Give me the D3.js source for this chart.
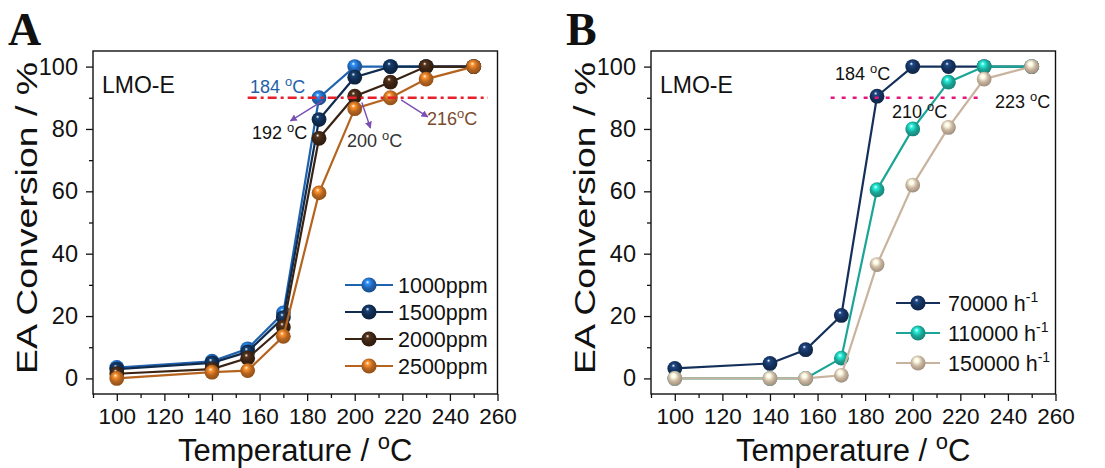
<!DOCTYPE html>
<html>
<head>
<meta charset="utf-8">
<script src="https://cdn.jsdelivr.net/npm/d3@7"></script>
<style>
  html, body { margin: 0; padding: 0; background: #fff; }
  svg { display: block; }
  text { fill: #111; }
</style>
</head>
<body>
<svg id="chart" width="1105" height="468" font-family="'Liberation Sans', Arial, sans-serif"></svg>
<script>
// Temperatures (°C) shared by both panels
const temps = [100, 140, 155, 170, 185, 200, 215, 230, 250];

// Panel A: EA conversion (%) at different EA concentrations
const conc1000 = [3.5, 5.5, 9.5, 21, 90, 100, 100, 100, 100];
const conc1500 = [3, 5, 8.5, 19.5, 83, 96.6, 100, 100, 100];
const conc2000 = [1.5, 3, 6.5, 16.5, 77, 90.5, 95, 100, 100];
const conc2500 = [0, 2, 2.5, 13.5, 59.5, 86.5, 90, 96, 100];
const concLabels = ["1000ppm", "1500ppm", "2000ppm", "2500ppm"];

// Panel B: EA conversion (%) at different space velocities
const ghsv70000 = [3.2, 4.8, 9.2, 20.2, 90.5, 100, 100, 100, 100];
const ghsv110000 = [0, 0, 0, 6.5, 60.5, 80, 95, 100, 100];
const ghsv150000 = [0, 0, 0, 1, 36.5, 62, 80.5, 96, 100];
const ghsvLabels = ["70000", "110000", "150000"];

// Axis ticks
const xTicks = [100, 120, 140, 160, 180, 200, 220, 240, 260];
const xMinor = [90, 110, 130, 150, 170, 190, 210, 230, 250];
const yTicks = [0, 20, 40, 60, 80, 100];
const yMinor = [10, 30, 50, 70, 90];

// T90 threshold and annotations
const t90 = 90;
const annotA = [
  { t: 184, text: "184", color: "#1e5fa8" },
  { t: 192, text: "192", color: "#111" },
  { t: 200, text: "200", color: "#333" },
  { t: 216, text: "216", color: "#7a4a2c" }
];
const annotB = [
  { t: 184, text: "184" },
  { t: 210, text: "210" },
  { t: 223, text: "223" }
];

const SANS = "'Liberation Sans', Arial, sans-serif";
const SERIF = "'Liberation Serif', 'Times New Roman', serif";

const svg = d3.select("#chart");
const defs = svg.append("defs");

function sphereGradient(id, color) {
  const c = d3.color(color);
  const g = defs.append("radialGradient").attr("id", id)
    .attr("cx", "45%").attr("cy", "42%").attr("r", "60%")
    .attr("fx", "40%").attr("fy", "30%");
  g.append("stop").attr("offset", "0%").attr("stop-color", "#ffffff");
  g.append("stop").attr("offset", "20%").attr("stop-color", c.brighter(1.1).formatHex());
  g.append("stop").attr("offset", "58%").attr("stop-color", c.formatHex());
  g.append("stop").attr("offset", "100%").attr("stop-color", c.darker(0.7).formatHex());
  return "url(#" + id + ")";
}

defs.append("marker").attr("id", "arrowhead")
  .attr("viewBox", "0 0 10 10").attr("refX", 9).attr("refY", 5)
  .attr("markerWidth", 5).attr("markerHeight", 5)
  .attr("orient", "auto-start-reverse")
  .append("path").attr("d", "M0,0 L10,5 L0,10 z").attr("fill", "#7a4fb5");

function degC(sel, num, size) {
  sel.append("tspan").text(num + " ");
  sel.append("tspan").attr("font-size", size * 0.72).attr("dy", -size * 0.38).text("o");
  sel.append("tspan").attr("dy", size * 0.38).text("C");
}

function panel(opt) {
  const g = svg.append("g");
  const x = d3.scaleLinear().domain([90, 260]).range([opt.left, opt.left + 404.5]);
  const y = d3.scaleLinear().domain([-5, 105]).range([394, 51]);

  // minor ticks
  g.append("g").attr("transform", "translate(0,394)")
    .call(d3.axisBottom(x).tickValues(xMinor).tickSize(4).tickFormat(""))
    .call(a => a.select(".domain").remove());
  g.append("g").attr("transform", "translate(" + x.range()[0] + ",0)")
    .call(d3.axisLeft(y).tickValues(yMinor).tickSize(4).tickFormat(""))
    .call(a => a.select(".domain").remove());

  // major ticks
  const xa = g.append("g").attr("transform", "translate(0,394)")
    .call(d3.axisBottom(x).tickValues(xTicks).tickSize(7).tickPadding(7).tickFormat(d3.format("d")));
  xa.select(".domain").remove();
  xa.attr("font-family", SANS).attr("font-size", 22.5);
  xa.selectAll("text").attr("fill", "#111");
  const ya = g.append("g").attr("transform", "translate(" + x.range()[0] + ",0)")
    .call(d3.axisLeft(y).tickValues(yTicks).tickSize(7).tickPadding(8).tickFormat(d3.format("d")));
  ya.select(".domain").remove();
  ya.attr("font-family", SANS).attr("font-size", 23.5);
  ya.selectAll("text").attr("fill", "#111");
  g.selectAll(".tick line").attr("stroke", "#111").attr("stroke-width", 1.3);

  // frame
  g.append("rect").attr("x", x.range()[0]).attr("y", 51)
    .attr("width", x.range()[1] - x.range()[0]).attr("height", 343)
    .attr("fill", "none").attr("stroke", "#111").attr("stroke-width", 1.4);

  // axis titles
  const xt = g.append("text").attr("x", (x.range()[0] + x.range()[1]) / 2).attr("y", 461)
    .attr("text-anchor", "middle").attr("font-size", 31);
  xt.append("tspan").text("Temperature / ");
  xt.append("tspan").attr("font-size", 22).attr("dy", -12).text("o");
  xt.append("tspan").attr("dy", 12).text("C");

  g.append("text").attr("transform", "translate(" + (opt.left - 56) + ",218) rotate(-90)")
    .attr("text-anchor", "middle").attr("font-size", 30)
    .attr("textLength", 312).attr("lengthAdjust", "spacingAndGlyphs")
    .text("EA Conversion / %");

  // panel letter
  g.append("text").attr("x", opt.left - 85).attr("y", 45)
    .attr("font-family", SERIF)
    .attr("font-weight", "bold").attr("font-size", 46).text(opt.letter);

  g.append("text").attr("x", x.range()[0] + 9).attr("y", 93)
    .attr("font-size", 23).text("LMO-E");

  const line = d3.line().x((d, i) => x(temps[i])).y(d => y(d));
  opt.series.forEach((s, k) => {
    const fill = sphereGradient(opt.letter + "g" + k, s.color);
    g.append("path").datum(s.values).attr("d", line)
      .attr("fill", "none").attr("stroke", s.color).attr("stroke-width", 2.2);
    g.append("g").selectAll("circle").data(s.values).join("circle")
      .attr("cx", (d, i) => x(temps[i])).attr("cy", d => y(d)).attr("r", 7.4)
      .attr("fill", fill);
  });

  return { g, x, y };
}

// ---------- Panel A ----------
const A = panel({
  letter: "A", left: 93,
  series: [
    { values: conc1000, color: "#1f62ad" },
    { values: conc1500, color: "#0f2b4e" },
    { values: conc2000, color: "#3a2313" },
    { values: conc2500, color: "#b5641f" }
  ]
});

A.g.append("line").attr("x1", A.x(155)).attr("x2", A.x(256))
  .attr("y1", A.y(t90)).attr("y2", A.y(t90))
  .attr("stroke", "#e8202a").attr("stroke-width", 2.6)
  .attr("stroke-dasharray", "9,4,3,4");

// arrows from the 90 % crossings to their labels
const arrowsA = [
  { x1: 186.5, y1: 89, x2: 173, y2: 82.6 },
  { x1: 203, y1: 88.5, x2: 206.6, y2: 80.3 },
  { x1: 219.5, y1: 89.3, x2: 230.7, y2: 83.9 }
];
arrowsA.forEach(a => {
  A.g.append("line").attr("x1", A.x(a.x1)).attr("y1", A.y(a.y1))
    .attr("x2", A.x(a.x2)).attr("y2", A.y(a.y2))
    .attr("stroke", "#7a4fb5").attr("stroke-width", 1.4)
    .attr("marker-end", "url(#arrowhead)");
});

const posA = [[250, 93], [252, 139], [347, 147], [427, 125]];
annotA.forEach((a, i) => {
  const t = A.g.append("text").attr("x", posA[i][0]).attr("y", posA[i][1])
    .attr("font-size", 18).style("fill", a.color);
  if (i === 3) {
    t.append("tspan").text(a.text);
    t.append("tspan").attr("font-size", 13).attr("dy", -7).text("o");
    t.append("tspan").attr("dy", 7).text("C");
  } else {
    degC(t, a.text, 18);
  }
});

// legend A
const colorsA = ["#1f62ad", "#0f2b4e", "#3a2313", "#b5641f"];
concLabels.forEach((lab, i) => {
  const yy = 285 + i * 27;
  A.g.append("line").attr("x1", 345).attr("x2", 393).attr("y1", yy).attr("y2", yy)
    .attr("stroke", colorsA[i]).attr("stroke-width", 2.2);
  A.g.append("circle").attr("cx", 369).attr("cy", yy).attr("r", 7.6)
    .attr("fill", "url(#Ag" + i + ")");
  A.g.append("text").attr("x", 398).attr("y", yy + 7.5).attr("font-size", 21.5).text(lab);
});

// ---------- Panel B ----------
const B = panel({
  letter: "B", left: 651,
  series: [
    { values: ghsv70000, color: "#14305a" },
    { values: ghsv110000, color: "#1ba596" },
    { values: ghsv150000, color: "#c8b49e" }
  ]
});

B.g.append("line").attr("x1", B.x(165.5)).attr("x2", B.x(230))
  .attr("y1", B.y(t90)).attr("y2", B.y(t90))
  .attr("stroke", "#e5177b").attr("stroke-width", 2.6)
  .attr("stroke-dasharray", "4,7");

const posB = [[835, 80], [892, 118], [995, 108]];
annotB.forEach((a, i) => {
  const t = B.g.append("text").attr("x", posB[i][0]).attr("y", posB[i][1]).attr("font-size", 18);
  degC(t, a.text, 18);
});

const colorsB = ["#14305a", "#1ba596", "#c8b49e"];
ghsvLabels.forEach((lab, i) => {
  const yy = 303 + i * 30;
  B.g.append("line").attr("x1", 896).attr("x2", 940).attr("y1", yy).attr("y2", yy)
    .attr("stroke", colorsB[i]).attr("stroke-width", 2.2);
  B.g.append("circle").attr("cx", 918).attr("cy", yy).attr("r", 7.6)
    .attr("fill", "url(#Bg" + i + ")");
  const t = B.g.append("text").attr("x", 948).attr("y", yy + 7.5).attr("font-size", 21.5);
  t.append("tspan").text(lab + " h");
  t.append("tspan").attr("font-size", 14).attr("dy", -9).text("-1");
});
</script>
</body>
</html>
